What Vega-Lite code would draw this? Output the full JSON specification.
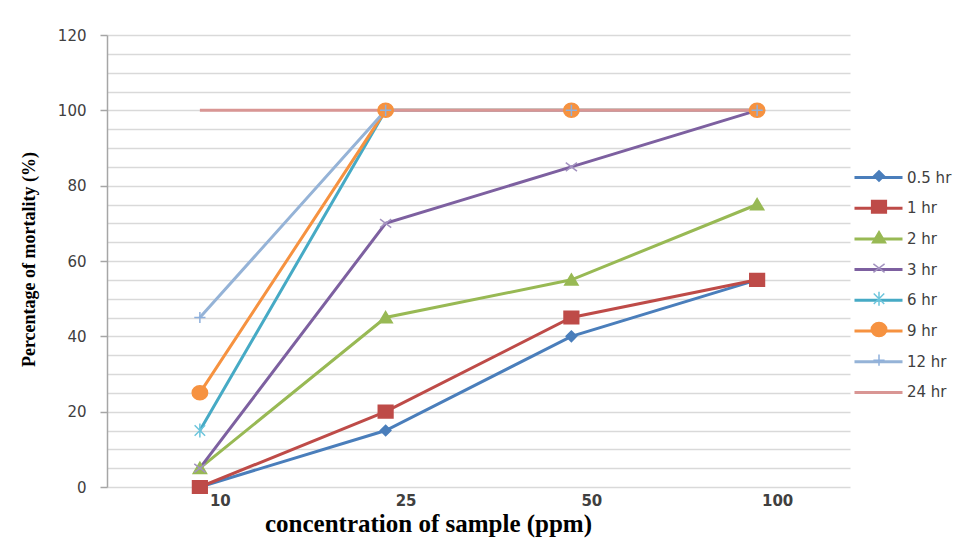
{
  "$schema": "https://vega.github.io/schema/vega-lite/v6.json",
  "width": 743,
  "height": 452,
  "autosize": {"type": "none"},
  "padding": {"left": 107, "top": 35, "right": 124, "bottom": 68},
  "background": "white",
  "config": {"view": {"stroke": null}},
  "data": {
    "values": [
      {"Series": "0.5 hr", "Conc": "10", "Mortality": 0},
      {"Series": "0.5 hr", "Conc": "25", "Mortality": 15},
      {"Series": "0.5 hr", "Conc": "50", "Mortality": 40},
      {"Series": "0.5 hr", "Conc": "100", "Mortality": 55},
      {"Series": "1 hr", "Conc": "10", "Mortality": 0},
      {"Series": "1 hr", "Conc": "25", "Mortality": 20},
      {"Series": "1 hr", "Conc": "50", "Mortality": 45},
      {"Series": "1 hr", "Conc": "100", "Mortality": 55},
      {"Series": "2 hr", "Conc": "10", "Mortality": 5},
      {"Series": "2 hr", "Conc": "25", "Mortality": 45},
      {"Series": "2 hr", "Conc": "50", "Mortality": 55},
      {"Series": "2 hr", "Conc": "100", "Mortality": 75},
      {"Series": "3 hr", "Conc": "10", "Mortality": 5},
      {"Series": "3 hr", "Conc": "25", "Mortality": 70},
      {"Series": "3 hr", "Conc": "50", "Mortality": 85},
      {"Series": "3 hr", "Conc": "100", "Mortality": 100},
      {"Series": "6 hr", "Conc": "10", "Mortality": 15},
      {"Series": "6 hr", "Conc": "25", "Mortality": 100},
      {"Series": "6 hr", "Conc": "50", "Mortality": 100},
      {"Series": "6 hr", "Conc": "100", "Mortality": 100},
      {"Series": "9 hr", "Conc": "10", "Mortality": 25},
      {"Series": "9 hr", "Conc": "25", "Mortality": 100},
      {"Series": "9 hr", "Conc": "50", "Mortality": 100},
      {"Series": "9 hr", "Conc": "100", "Mortality": 100},
      {"Series": "12 hr", "Conc": "10", "Mortality": 45},
      {"Series": "12 hr", "Conc": "25", "Mortality": 100},
      {"Series": "12 hr", "Conc": "50", "Mortality": 100},
      {"Series": "12 hr", "Conc": "100", "Mortality": 100},
      {"Series": "24 hr", "Conc": "10", "Mortality": 100},
      {"Series": "24 hr", "Conc": "25", "Mortality": 100},
      {"Series": "24 hr", "Conc": "50", "Mortality": 100},
      {"Series": "24 hr", "Conc": "100", "Mortality": 100}
    ]
  },
  "encoding": {
    "x": {
      "field": "Conc", "type": "ordinal",
      "scale": {"type": "point", "padding": 0.5, "domain": ["10", "25", "50", "100"]},
      "axis": {
        "title": "concentration of sample (ppm)",
        "titleFont": "Liberation Serif", "titleFontSize": 25, "titleFontWeight": "bold", "titleColor": "#000000",
        "titleX": 321, "titleY": 24, "titleAnchor": "middle", "titleAlign": "center", "titleBaseline": "top",
        "labelFont": "DejaVu Sans", "labelFontSize": 15, "labelFontWeight": "bold", "labelColor": "#404040",
        "labelAngle": 0, "labelPadding": 6, "labelOffset": 20,
        "ticks": false, "domain": false, "grid": false
      }
    },
    "y": {
      "field": "Mortality", "type": "quantitative",
      "scale": {"domain": [0, 120], "nice": false, "zero": true},
      "axis": {
        "title": "Percentage of mortality (%)",
        "titleFont": "Liberation Serif", "titleFontSize": 18, "titleFontWeight": "bold", "titleColor": "#000000",
        "titleX": -69, "titleY": 224, "titleAngle": 270, "titleAlign": "center", "titleBaseline": "bottom",
        "values": [0, 5, 10, 15, 20, 25, 30, 35, 40, 45, 50, 55, 60, 65, 70, 75, 80, 85, 90, 95, 100, 105, 110, 115, 120],
        "labelExpr": "datum.value % 20 === 0 ? datum.label : ''",
        "labelFont": "DejaVu Sans", "labelFontSize": 15, "labelColor": "#404040",
        "labelPadding": 14,
        "tickSize": 7, "tickColor": "#a6a6a6", "tickWidth": 1.5,
        "tickOpacity": {"condition": {"test": "datum.value % 20 === 0", "value": 1}, "value": 0},
        "domainColor": "#a6a6a6", "domainWidth": 1.5,
        "grid": true, "gridColor": "#d9d9d9", "gridWidth": 1.5
      }
    }
  },
  "layer": [
    {
      "mark": {"type": "line", "strokeWidth": 3},
      "encoding": {
        "color": {
          "field": "Series", "type": "nominal",
          "scale": {
            "domain": ["0.5 hr", "1 hr", "2 hr", "3 hr", "6 hr", "9 hr", "12 hr", "24 hr"],
            "range": ["#4a7ebb", "#be4b48", "#98b954", "#7d60a0", "#46aac5", "#f69240", "#95b3d7", "#d99694"]
          },
          "legend": {
            "title": null, "orient": "none", "legendX": 763, "legendY": 134, "padding": 0,
            "symbolType": "M-3.43,0H3.43", "symbolSize": 196, "symbolStrokeWidth": 3,
            "gridAlign": "all", "rowPadding": 13.7, "labelOffset": 20,
            "labelFont": "DejaVu Sans", "labelFontSize": 15, "labelColor": "#404040"
          }
        }
      }
    },
    {
      "mark": {"type": "point", "filled": true, "size": 196, "opacity": 1, "strokeWidth": 1.5},
      "encoding": {
        "shape": {
          "field": "Series", "type": "nominal",
          "scale": {
            "domain": ["24 hr", "12 hr", "9 hr", "6 hr", "3 hr", "2 hr", "1 hr", "0.5 hr"],
            "range": [
              "M0,0",
              "M-0.8,0H0.8M0,-0.8V0.8",
              "M-1.1,0A1.1,1,0,1,0,1.1,0A1.1,1,0,1,0,-1.1,0Z",
              "M-0.75,-0.75L0.75,0.75M-0.75,0.75L0.75,-0.75M0,-1V1",
              "M-0.8,-0.6L0.8,0.6M-0.8,0.6L0.8,-0.6",
              "M0,-0.85L0.95,0.75H-0.95Z",
              "M-1.05,-0.9H1.05V0.9H-1.05Z",
              "M0,-0.75L0.75,0L0,0.75L-0.75,0Z"
            ]
          },
          "legend": {
            "title": null, "orient": "none", "legendX": 764, "legendY": 133, "padding": 0,
            "values": ["0.5 hr", "1 hr", "2 hr", "3 hr", "6 hr", "9 hr", "12 hr", "24 hr"],
            "symbolSize": 196, "symbolStrokeWidth": 1.5, "symbolOpacity": 1,
            "gridAlign": "all", "rowPadding": 10.7, "labelExpr": "''", "labelOffset": 0,
            "labelFont": "DejaVu Sans", "labelFontSize": 15
          }
        },
        "fill": {
          "field": "Series", "type": "nominal",
          "scale": {
            "domain": ["24 hr", "12 hr", "9 hr", "6 hr", "3 hr", "2 hr", "1 hr", "0.5 hr"],
            "range": ["#d99694", "#95b3d7", "#f69240", "#46aac5", "#7d60a0", "#98b954", "#be4b48", "#4a7ebb"]
          },
          "legend": {
            "title": null, "orient": "none", "legendX": 764, "legendY": 133, "padding": 0,
            "values": ["0.5 hr", "1 hr", "2 hr", "3 hr", "6 hr", "9 hr", "12 hr", "24 hr"],
            "symbolSize": 196, "symbolStrokeWidth": 1.5, "symbolOpacity": 1,
            "gridAlign": "all", "rowPadding": 10.7, "labelExpr": "''", "labelOffset": 0,
            "labelFont": "DejaVu Sans", "labelFontSize": 15
          }
        },
        "stroke": {
          "field": "Series", "type": "nominal",
          "scale": {
            "domain": ["24 hr", "12 hr", "9 hr", "6 hr", "3 hr", "2 hr", "1 hr", "0.5 hr"],
            "range": ["#d99694", "#8eb0dc", "#f69240", "#6cc5dc", "#a393c0", "#98b954", "#be4b48", "#4a7ebb"]
          },
          "legend": {
            "title": null, "orient": "none", "legendX": 764, "legendY": 133, "padding": 0,
            "values": ["0.5 hr", "1 hr", "2 hr", "3 hr", "6 hr", "9 hr", "12 hr", "24 hr"],
            "symbolSize": 196, "symbolStrokeWidth": 1.5, "symbolOpacity": 1,
            "gridAlign": "all", "rowPadding": 10.7, "labelExpr": "''", "labelOffset": 0,
            "labelFont": "DejaVu Sans", "labelFontSize": 15
          }
        }
      }
    }
  ]
}
